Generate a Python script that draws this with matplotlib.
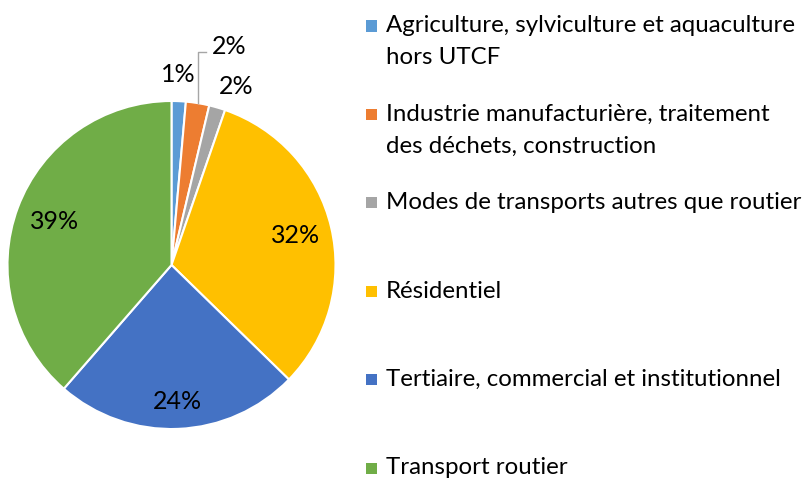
import numpy as np
import matplotlib
matplotlib.use("Agg")
import matplotlib.pyplot as plt
from matplotlib.patches import Rectangle

# ---------------------------------------------------------------------------
# Data
# ---------------------------------------------------------------------------
categories = [
    "Agriculture, sylviculture et aquaculture\nhors UTCF",
    "Industrie manufacturière, traitement\ndes déchets, construction",
    "Modes de transports autres que routier",
    "Résidentiel",
    "Tertiaire, commercial et institutionnel",
    "Transport routier",
]
shares = [1.4, 2.3, 1.6, 32.0, 24.1, 38.6]
pct_labels = ["1%", "2%", "2%", "32%", "24%", "39%"]
colors = ["#5B9BD5", "#ED7D31", "#A5A5A5", "#FFC000", "#4472C4", "#70AD47"]

# label radius (in pie radii) and angular nudge in degrees, per slice
label_r = [1.165, 1.38, 1.16, 0.78, 0.83, 0.76]
label_dtheta = [0.5, -5.5, -3.8, 0.0, 0.0, 0.0]

FONT = "Lato"
plt.rcParams["font.family"] = [FONT, "DejaVu Sans"]

W, H = 807, 480
fig = plt.figure(figsize=(W / 100, H / 100), dpi=100)

cx, cy, rad = 171.5, 265, 164
ax = fig.add_axes([(cx - rad) / W, (H - cy - rad) / H, 2 * rad / W, 2 * rad / H])
wedges, _ = ax.pie(
    shares, colors=colors, startangle=90, counterclock=False, radius=1,
    wedgeprops=dict(edgecolor="white", linewidth=1.5),
)
ax.set_xlim(-1, 1)
ax.set_ylim(-1, 1)
ax.set_aspect("equal")
ax.axis("off")

for i, w in enumerate(wedges):
    mid = np.deg2rad((w.theta1 + w.theta2) / 2 + label_dtheta[i])
    x, y = label_r[i] * np.cos(mid), label_r[i] * np.sin(mid)
    ax.text(x, y, pct_labels[i], ha="center", va="center", fontsize=18,
            color="#000000", clip_on=False)

# leader line for the orange slice label
w = wedges[1]
mid = np.deg2rad((w.theta1 + w.theta2) / 2)
x0, y0 = np.cos(mid), np.sin(mid)
ax.plot([x0, x0, x0 + 0.05], [y0, 1.30, 1.30], color="#A6A6A6", lw=1,
        clip_on=False)

# ---------------------------------------------------------------------------
# Legend (drawn by hand to keep Excel-like even spacing)
# ---------------------------------------------------------------------------
leg_x_box = 371
leg_x_text = 386
leg_y0 = 26
leg_step = 88.4
line_gap = 31.5
for i, (lab, col) in enumerate(zip(categories, colors)):
    yy = leg_y0 + i * leg_step
    fig.patches.append(Rectangle(((leg_x_box - 5.5) / W, 1 - (yy + 5.5) / H),
                                 11 / W, 11 / H, transform=fig.transFigure,
                                 facecolor=col, edgecolor="none"))
    for j, line in enumerate(lab.split("\n")):
        fig.text(leg_x_text / W, 1 - (yy + j * line_gap) / H, line,
                 ha="left", va="center", fontsize=17.3, color="#000000")

fig.savefig("out.png", dpi=100)
